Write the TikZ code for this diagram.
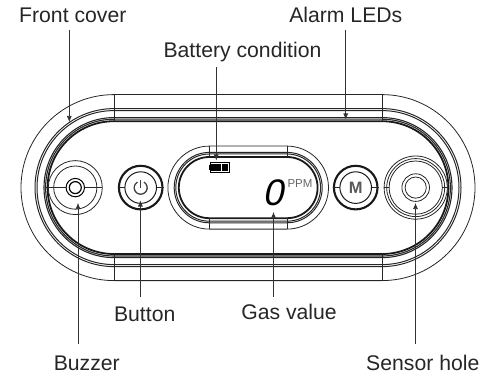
\documentclass[tikz,border=0pt]{standalone}
\usepackage{fontspec}
\setmainfont{Liberation Sans}
\usetikzlibrary{arrows.meta}
\def\pillshape[#1](#2:#3:#4){\draw[#1, rounded corners=#4pt] ({#2-#3-#4}, {187.6-#4}) rectangle ({#2+#3+#4}, {187.6+#4});}
\tikzset{
	label text/.style={font=\fontsize{21.2}{24}\selectfont, text=black!85, inner sep=0pt},
	pointer/.style={line width=0.6pt, color=black!80, -{Latex[length=6pt,width=5pt]}},
	outline/.style={line width=0.8pt, color=black!85},
	heavy/.style={line width=1.8pt, color=black!90}
}

\begin{document}
\begin{tikzpicture}[x=1pt, y=-1pt]
			%%%%% START %%%%%
			\useasboundingbox (0, 0) rectangle (482, 377);
			
			% body
			\pillshape[outline](248:134:93);
			\pillshape[outline, line width=1pt](248:134:79);
			\pillshape[outline, line width=1pt](248:134:77);
			\pillshape[outline, line width=1.1pt](248:134:70);
			\pillshape[outline, line width=1.1pt](248:134:68.4);
			\pillshape[heavy](248:134:66.4);
			\foreach \x in {114, 382} {
				\draw[outline] (\x, 94.5) -- (\x, 122);
				\draw[outline] (\x, 253) -- (\x, 280.5);
			}
			
			% display
			\pillshape[outline](248.2:38.8:41.5);
			\pillshape[outline, line width=1pt](248.2:38.8:35.2);
			\pillshape[outline, line width=1pt](248.2:38.8:33.6);
			\pillshape[heavy](248.2:38.8:30.6);
			\foreach \x in {209.5, 287} {
				\draw[outline] (\x, 146) -- (\x, 157);
				\draw[outline] (\x, 218) -- (\x, 229);
			}
			\draw[line width=0.7pt] (210.4, 162.6) rectangle (229, 172);
			\draw[fill=black] (208.8, 165.5) rectangle (210.4, 169.2);
			\fill (211.4, 163.6) rectangle (221, 171);
			\fill (222.3, 163.6) rectangle (228, 171);
			\node[font=\fontsize{37}{37}\selectfont, xslant=0.2, text=black, inner sep=0pt] (gasdigit) at (275.5, 192.5) {0};
			\node[font=\fontsize{11.5}{12}\selectfont, text=black!60, inner sep=0pt] (ppmunit) at (300, 183.2) {PPM};
			
			% buzzer
			\draw[outline] (75.3, 187.6) circle (27);
			\draw[outline] (75.3, 187.6) circle (21.6);
			\draw[line width=1pt] (75.3, 187.6) circle (9.2);
			\draw[line width=1.2pt] (75.3, 187.6) circle (6);
			\draw[outline] (46, 187.6) -- (66, 187.6);
			\draw[outline] (84.5, 187.6) -- (102.3, 187.6);
			
			% buttons
			\foreach \cx in {140.7, 355.7} {
				\draw[line width=2.1pt, color=black!90] (\cx, 187.6) circle (21.8);
				\draw[line width=1pt, color=black!90] (\cx, 187.6) circle (15.8);
				\draw[outline] (\cx-23, 187.6) -- (\cx-16, 187.6);
				\draw[outline] (\cx+16, 187.6) -- (\cx+23, 187.6);
			}
			\draw[line width=1.3pt, color=black!75] (143.95, 182.1) arc (-60:240:6.5);
			\draw[line width=1.3pt, color=black!75] (140.7, 179.5) -- (140.7, 187.6);
			\node[font=\bfseries\fontsize{16.5}{17}\selectfont, text=black!65, inner sep=0pt] (menukey) at (355.7, 187.8) {M};
			
			% sensor
			\foreach \r in {31.6, 29, 26.6} {
				\draw[outline] (415.7, 187.6) circle (\r);
			}
			\draw[outline] (415.7, 187.6) circle (13.8);
			\draw[outline] (415.7, 187.6) circle (10.6);
			\draw[outline] (384, 187.6) -- (389, 187.6);
			\draw[outline] (442.3, 187.6) -- (447.5, 187.6);
			
			% labels
			\node[label text] (frontlabel) at (72.8, 15) {Front cover};
			\node[label text] (alarmlabel) at (345.8, 15) {Alarm LEDs};
			\node[label text] (batterylabel) at (242.5, 52) {Battery condition};
			\node[label text] (buttonlabel) at (144.7, 314) {Button};
			\node[label text] (gaslabel) at (289, 311.7) {Gas value};
			\node[label text] (buzzerlabel) at (86.8, 363) {Buzzer};
			\node[label text] (sensorlabel) at (422.8, 363) {Sensor hole};
			
			% arrows
			\coordinate (fronttip) at (69.3, 122);
			\coordinate (alarmtip) at (345.7, 119.5);
			\coordinate (batterytip) at (216.3, 160.5);
			\coordinate (buttontip) at (140.4, 200.5);
			\coordinate (gastip) at (273.5, 212);
			\coordinate (buzzertip) at (78, 203);
			\coordinate (sensortip) at (415.5, 203);
			
			\draw[pointer, shorten <=7pt] (frontlabel.south -| fronttip) -- (fronttip);
			\draw[pointer, shorten <=7pt] (alarmlabel.south -| alarmtip) -- (alarmtip);
			\draw[pointer, shorten <=5pt] (batterylabel.south -| batterytip) -- (batterytip);
			\draw[pointer, shorten <=9pt] (buttonlabel.north -| buttontip) -- (buttontip);
			\draw[pointer, shorten <=7pt] (gaslabel.north -| gastip) -- (gastip);
			\draw[pointer, shorten <=11pt] (buzzerlabel.north -| buzzertip) -- (buzzertip);
			\draw[pointer, shorten <=11pt] (sensorlabel.north -| sensortip) -- (sensortip);
			%%%%% END %%%%%
		\end{tikzpicture}
\end{document}
